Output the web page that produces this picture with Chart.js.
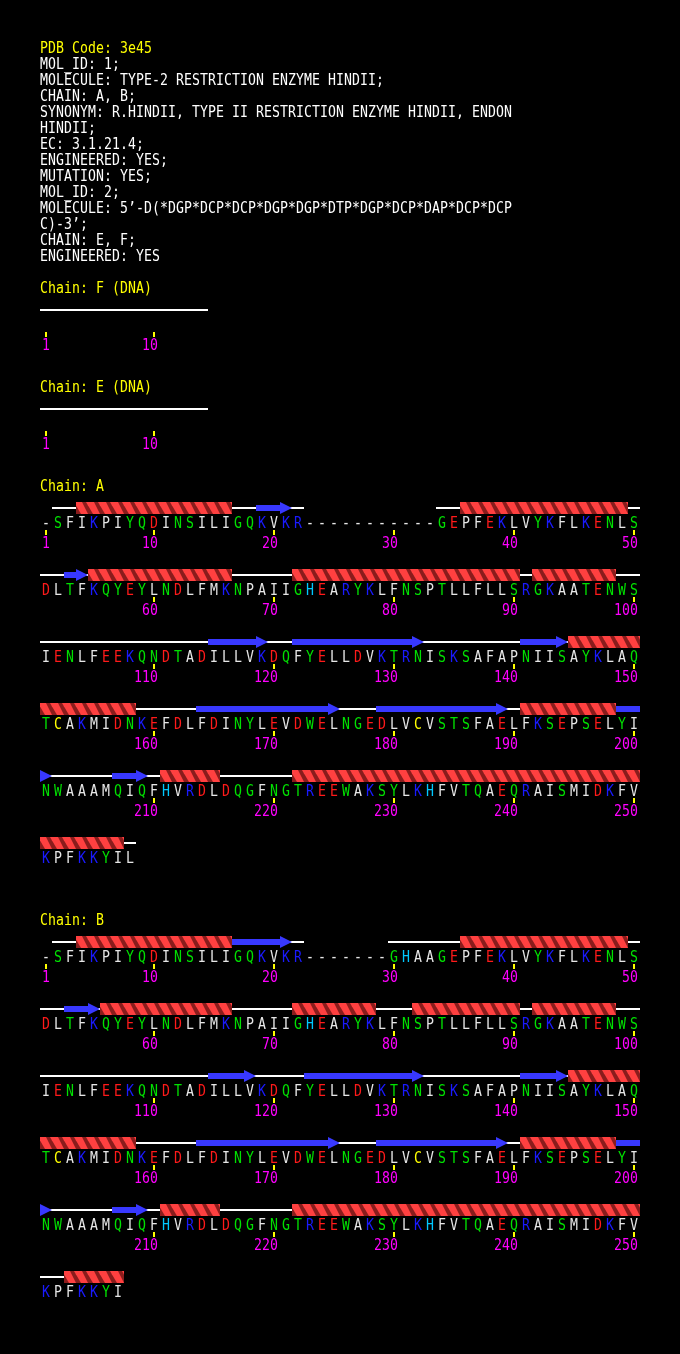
<!DOCTYPE html>
<html>
<head>
<meta charset="utf-8">
<script src="https://cdn.jsdelivr.net/npm/chart.js@4.4.0/dist/chart.umd.min.js"></script>
<style>
  html, body { margin: 0; padding: 0; background: #000; }
  #wrap { width: 680px; height: 1354px; position: relative; }
</style>
</head>
<body>
<div id="wrap"><canvas id="wiring"></canvas></div>
<script>
// ---- data ----
const headerLines = [
  'PDB Code: 3e45',
  'MOL_ID: 1;',
  'MOLECULE: TYPE-2 RESTRICTION ENZYME HINDII;',
  'CHAIN: A, B;',
  'SYNONYM: R.HINDII, TYPE II RESTRICTION ENZYME HINDII, ENDON',
  'HINDII;',
  'EC: 3.1.21.4;',
  'ENGINEERED: YES;',
  'MUTATION: YES;',
  'MOL_ID: 2;',
  'MOLECULE: 5\u2019-D(*DGP*DCP*DCP*DGP*DGP*DTP*DGP*DCP*DAP*DCP*DCP',
  'C)-3\u2019;',
  'CHAIN: E, F;',
  'ENGINEERED: YES'
];

const chainLabels = ['Chain: F (DNA)', 'Chain: E (DNA)', 'Chain: A', 'Chain: B'];

// DNA chains: 14 positions, bases not printed
const dnaSeqF = ['..............'];
const dnaSeqE = ['..............'];

const seqA = [
  '-SFIKPIYQDINSILIGQKVKR-----------GEPFEKLVYKFLKENLS',
  'DLTFKQYEYLNDLFMKNPAIIGHEARYKLFNSPTLLFLLSRGKAATENWS',
  'IENLFEEKQNDTADILLVKDQFYELLDVKTRNISKSAFAPNIISAYKLAQ',
  'TCAKMIDNKEFDLFDINYLEVDWELNGEDLVCVSTSFAELFKSEPSELYI',
  'NWAAAMQIQFHVRDLDQGFNGTREEWAKSYLKHFVTQAEQRAISMIDKFV',
  'KPFKKYIL'
];
const seqB = [
  '-SFIKPIYQDINSILIGQKVKR-------GHAAGEPFEKLVYKFLKENLS',
  'DLTFKQYEYLNDLFMKNPAIIGHEARYKLFNSPTLLFLLSRGKAATENWS',
  'IENLFEEKQNDTADILLVKDQFYELLDVKTRNISKSAFAPNIISAYKLAQ',
  'TCAKMIDNKEFDLFDINYLEVDWELNGEDLVCVSTSFAELFKSEPSELYI',
  'NWAAAMQIQFHVRDLDQGFNGTREEWAKSYLKHFVTQAEQRAISMIDKFV',
  'KPFKKYI'
];

// secondary structure, residue ranges [start, end]
const helicesA = [[4, 16], [36, 49], [55, 66], [72, 90], [92, 98], [145, 158], [191, 198], [211, 215], [222, 257]];
const strandsA = [[19, 21], [53, 54], [115, 119], [122, 132], [141, 144], [164, 175], [179, 189], [199, 201], [207, 209]];
const helicesB = [[4, 16], [36, 49], [56, 66], [72, 78], [82, 90], [92, 98], [145, 158], [191, 198], [211, 215], [222, 250], [253, 257]];
const strandsB = [[17, 21], [53, 55], [115, 118], [123, 132], [141, 144], [164, 175], [179, 189], [199, 201], [207, 209]];

const rowLength = 50;

// ---- layout / style ----
const FONT = '15px "DejaVu Sans Mono", "Liberation Mono", monospace';
const WHITE = '#ffffff';
const YELLOW = '#ffff00';
const MAGENTA = '#ff00ff';
const HELIX_RED = '#ff4040';
const HELIX_DARK = '#8a1c1c';
const STRAND_BLUE = '#3838ff';
const resColour = {
  K: '#1a1aff', R: '#1a1aff',
  D: '#ff1a1a', E: '#ff1a1a',
  H: '#00c8ff',
  C: '#ffff00',
  S: '#00e000', T: '#00e000', N: '#00e000', Q: '#00e000', G: '#00e000', Y: '#00e000', W: '#00e000'
};
const plainColour = '#e6e6e6';

const headerBase = 53, headerPitch = 16;
const firstRowY = 310, rowPitch = 67, chainGap = 32;
const helixH = 12, strandH = 6, coilH = 2;

const chains = [
  { label: chainLabels[0], rows: dnaSeqF, helices: [], strands: [], letters: false },
  { label: chainLabels[1], rows: dnaSeqE, helices: [], strands: [], letters: false },
  { label: chainLabels[2], rows: seqA, helices: helicesA, strands: strandsA, letters: true },
  { label: chainLabels[3], rows: seqB, helices: helicesB, strands: strandsB, letters: true }
];
let yCursor = firstRowY;
chains.forEach(c => {
  c.rowY = c.rows.map(() => { const y = yCursor; yCursor += rowPitch; return y; });
  yCursor += chainGap;
});

function splitByRows(start, end) {
  const parts = [];
  let r = start;
  while (r <= end) {
    const row = Math.floor((r - 1) / rowLength);
    const rowEnd = Math.min(end, (row + 1) * rowLength);
    parts.push({ row, c0: (r - 1) % rowLength, c1: (rowEnd - 1) % rowLength, last: rowEnd === end });
    r = rowEnd + 1;
  }
  return parts;
}

const coilPts = [], helixPts = [], strandPts = [], headPts = [], tickPts = [];
chains.forEach(c => {
  c.rows.forEach((s, ri) => {
    const y = c.rowY[ri];
    let i = 0;
    while (i < s.length) {
      if (s[i] === '-') { i++; continue; }
      let j = i;
      while (j + 1 < s.length && s[j + 1] !== '-') j++;
      coilPts.push({ x: [i, j + 1], y });
      i = j + 1;
    }
    for (let k = 0; k < s.length; k++) {
      const n = ri * rowLength + k + 1;
      if (n === 1 || n % 10 === 0) tickPts.push({ x: k + 0.5, y: y + 24.5, n });
    }
  });
  c.helices.forEach(([a, b]) => splitByRows(a, b).forEach(p => {
    helixPts.push({ x: [p.c0, p.c1 + 1], y: c.rowY[p.row] });
  }));
  c.strands.forEach(([a, b]) => splitByRows(a, b).forEach(p => {
    const bodyEnd = p.last ? p.c1 : p.c1 + 1;
    if (bodyEnd > p.c0) strandPts.push({ x: [p.c0, bodyEnd], y: c.rowY[p.row] });
    if (p.last) headPts.push({ x: p.c1 + 0.5, y: c.rowY[p.row] });
  }));
});

// helix ribbon tile: bright band with a darker back-side band, one turn per residue
const helixTile = document.createElement('canvas');
helixTile.width = 12; helixTile.height = helixH;
(function () {
  const t = helixTile.getContext('2d');
  t.fillStyle = HELIX_RED;
  t.fillRect(0, 0, 12, helixH);
  t.fillStyle = HELIX_DARK;
  [-12, 0].forEach(o => {
    t.beginPath();
    t.moveTo(o + 6, 0); t.lineTo(o + 10, 0);
    t.lineTo(o + 17, helixH); t.lineTo(o + 12, helixH);
    t.closePath(); t.fill();
  });
})();

// strand arrowhead
const headTile = document.createElement('canvas');
headTile.width = 12; headTile.height = 12;
(function () {
  const t = headTile.getContext('2d');
  t.fillStyle = STRAND_BLUE;
  t.beginPath(); t.moveTo(0, 0); t.lineTo(12, 6); t.lineTo(0, 12); t.closePath(); t.fill();
})();

function helixFill(ctx) {
  if (!ctx.raw) return HELIX_RED;
  const chart = ctx.chart;
  const pat = chart.ctx.createPattern(helixTile, 'repeat');
  const tx = chart.scales.x.getPixelForValue(0);
  const ty = chart.scales.y.getPixelForValue(ctx.raw.y) - helixH / 2;
  pat.setTransform(new DOMMatrix([1, 0, 0, 1, tx, ty]));
  return pat;
}

function drawString(ctx, str, x0, baseline, colour, pitch) {
  for (let i = 0; i < str.length; i++) {
    if (str[i] === ' ') continue;
    ctx.save();
    ctx.translate(x0 + pitch * i + pitch / 2, baseline);
    ctx.scale(0.88, 1);
    ctx.fillStyle = typeof colour === 'function' ? colour(str[i]) : colour;
    ctx.fillText(str[i], 0, 0);
    ctx.restore();
  }
}

const textPlugin = {
  id: 'seqText',
  afterDatasetsDraw(chart) {
    const ctx = chart.ctx, xs = chart.scales.x, ys = chart.scales.y;
    const left = xs.getPixelForValue(0);
    const cell = xs.getPixelForValue(1) - left;
    ctx.save();
    ctx.font = FONT;
    ctx.textAlign = 'center';
    ctx.textBaseline = 'alphabetic';
    headerLines.forEach((line, i) => {
      drawString(ctx, line, left, ys.getPixelForValue(headerBase + i * headerPitch), i === 0 ? YELLOW : WHITE, 8);
    });
    chains.forEach(c => {
      drawString(ctx, c.label, left, ys.getPixelForValue(c.rowY[0] - 17), YELLOW, 8);
      if (!c.letters) return;
      c.rows.forEach((s, ri) => {
        drawString(ctx, s, left, ys.getPixelForValue(c.rowY[ri] + 20),
          ch => resColour[ch] || plainColour, cell);
      });
    });
    tickPts.forEach(p => {
      const label = String(p.n);
      const cx = xs.getPixelForValue(p.x);
      drawString(ctx, label, cx + 4 - 8 * label.length, ys.getPixelForValue(p.y - 24.5 + 40), MAGENTA, 8);
    });
    ctx.restore();
  }
};

const barCommon = {
  type: 'bar', indexAxis: 'y', grouped: false, borderWidth: 0, inflateAmount: 0
};

// higher "order" is painted first (underneath)
new Chart(document.getElementById('wiring'), {
  type: 'bar',
  data: {
    datasets: [
      Object.assign({ label: 'coil', data: coilPts, backgroundColor: WHITE, barThickness: coilH, order: 5 }, barCommon),
      Object.assign({ label: 'helix', data: helixPts, backgroundColor: helixFill, barThickness: helixH, order: 4 }, barCommon),
      Object.assign({ label: 'strand', data: strandPts, backgroundColor: STRAND_BLUE, barThickness: strandH, order: 3 }, barCommon),
      { type: 'scatter', label: 'arrow', data: headPts, pointStyle: headTile, radius: 6, borderWidth: 0, order: 2 },
      { type: 'scatter', label: 'ticks', data: tickPts, pointStyle: 'line', rotation: 90, radius: 2.5,
        borderColor: YELLOW, borderWidth: 2, backgroundColor: YELLOW, order: 1 }
    ]
  },
  options: {
    responsive: true,
    maintainAspectRatio: false,
    animation: false,
    events: [],
    layout: { padding: 0, autoPadding: false },
    scales: {
      x: { type: 'linear', min: -10 / 3, max: 160 / 3, offset: false, display: false },
      y: { type: 'linear', min: 0, max: 1354, reverse: true, offset: false, display: false }
    },
    plugins: {
      legend: { display: false },
      tooltip: { enabled: false }
    }
  },
  plugins: [textPlugin]
});
</script>
</body>
</html>
